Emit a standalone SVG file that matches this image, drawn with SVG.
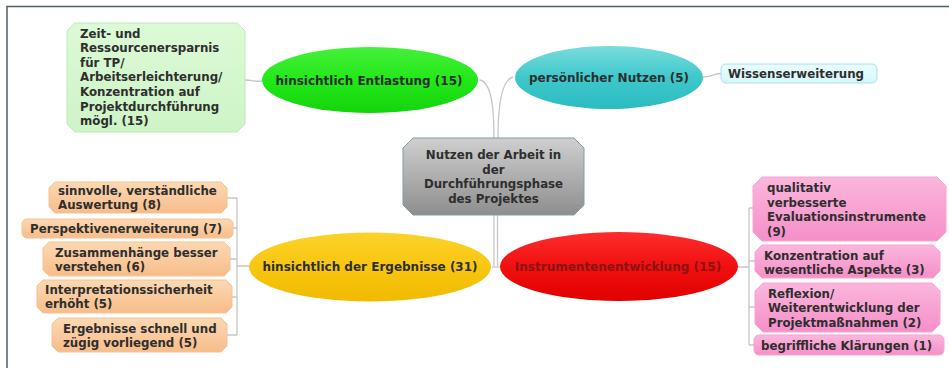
<svg xmlns="http://www.w3.org/2000/svg" width="949" height="368" viewBox="0 0 949 368">
<defs>
<linearGradient id="gGreen" x1="0" y1="0" x2="0" y2="1"><stop offset="0" stop-color="#45f03a"/><stop offset="0.5" stop-color="#22e818"/><stop offset="1" stop-color="#14d40c"/></linearGradient>
<linearGradient id="gTeal" x1="0" y1="0" x2="0" y2="1"><stop offset="0" stop-color="#7adcdc"/><stop offset="0.5" stop-color="#3ec8cb"/><stop offset="1" stop-color="#2bbcc0"/></linearGradient>
<linearGradient id="gYellow" x1="0" y1="0" x2="0" y2="1"><stop offset="0" stop-color="#fcd22a"/><stop offset="0.5" stop-color="#f8c610"/><stop offset="1" stop-color="#f0ba00"/></linearGradient>
<linearGradient id="gRed" x1="0" y1="0" x2="0" y2="1"><stop offset="0" stop-color="#ff2c2c"/><stop offset="0.5" stop-color="#f01010"/><stop offset="1" stop-color="#e00000"/></linearGradient>
<linearGradient id="gGray" x1="0" y1="0" x2="0" y2="1"><stop offset="0" stop-color="#cfcfcf"/><stop offset="1" stop-color="#8e8e8e"/></linearGradient>
<linearGradient id="gNote" x1="0" y1="0" x2="0" y2="1"><stop offset="0" stop-color="#dcfad6"/><stop offset="1" stop-color="#cdf4c6"/></linearGradient>
<linearGradient id="gCyan" x1="0" y1="0" x2="0" y2="1"><stop offset="0" stop-color="#eafdfe"/><stop offset="1" stop-color="#d6f7fa"/></linearGradient>
<linearGradient id="gOrange" x1="0" y1="0" x2="0" y2="1"><stop offset="0" stop-color="#fcd8b2"/><stop offset="1" stop-color="#f7bd8a"/></linearGradient>
<linearGradient id="gPink" x1="0" y1="0" x2="0" y2="1"><stop offset="0" stop-color="#fbb6dc"/><stop offset="1" stop-color="#f58fc9"/></linearGradient>
</defs>
<style>
text{font-family:"DejaVu Sans",Verdana,sans-serif;font-weight:bold;font-size:11.8px;fill:#2e2e2e}
.big{font-size:12px}
.mid{text-anchor:middle}
.note{fill:url(#gNote);stroke:#bfe8b6;stroke-width:1}
.cyan{fill:url(#gCyan);stroke:#a6e2ec;stroke-width:1}
.orange{fill:url(#gOrange);stroke:#f2c496;stroke-width:1}
.pink{fill:url(#gPink);stroke:#f3a6d2;stroke-width:1}
.conn path{fill:none;stroke:#c6c6c6;stroke-width:1.3}
</style>
<path d="M7,368 V6.5 H949" fill="none" stroke="#4f5f66" stroke-width="1.5"/>
<g class="conn" id="connectors">
<path d="M245,80 C252,80 254,82 262,81"/>
<path d="M480,80 C492,83 494,110 494,138"/>
<path d="M513,77 C501,80 498,110 498,138"/>
<path d="M494,215 V266"/>
<path d="M497.5,215 V266"/>
<path d="M492,267 H500"/>
<path d="M703,77 C712,77 712,74 721,73.5"/>
<path d="M249,266 H237 M237,198 V335 M227,198 H237 M233,228 H237 M230,259 H237 M232,297 H237 M227,335 H237"/>
<path d="M738,267 H749 M749,208 V345 M749,208 H753 M749,261 H755 M749,307 H755 M749,345 H754"/>
</g>
<g id="center">
<path d="M413,138 H574 L584,148 V205 L574,215 H413 L403,205 V148 Z" fill="url(#gGray)" stroke="#7f9da3" stroke-width="1"/>
<text class="mid" x="493.5" y="159">Nutzen der Arbeit in</text>
<text class="mid" x="493.5" y="173.5">der</text>
<text class="mid" x="493.5" y="188">Durchführungsphase</text>
<text class="mid" x="493.5" y="202.5">des Projektes</text>
</g>
<g id="entlastung">
<ellipse cx="370" cy="80" rx="108" ry="33" fill="url(#gGreen)"/>
<text class="big mid" x="369" y="84.5">hinsichtlich Entlastung (15)</text>
</g>
<g id="note-zeit">
<path d="M75,23 H237 L245,31 V124 L237,132 H75 L67,124 V31 Z" class="note"/>
<text x="80" y="37.5">Zeit- und</text>
<text x="80" y="52.1">Ressourcenersparnis</text>
<text x="80" y="66.7">für TP/</text>
<text x="80" y="81.3">Arbeitserleichterung/</text>
<text x="80" y="95.9">Konzentration auf</text>
<text x="80" y="110.5">Projektdurchführung</text>
<text x="80" y="125.1">mögl. (15)</text>
</g>
<g id="persoenlich">
<ellipse cx="609" cy="77.5" rx="94" ry="31.5" fill="url(#gTeal)"/>
<text class="big mid" x="609" y="82">persönlicher Nutzen (5)</text>
</g>
<g id="wissen">
<rect x="721" y="64" width="156" height="19" rx="5" class="cyan"/>
<text x="728" y="78">Wissenserweiterung</text>
</g>
<g id="ergebnisse">
<ellipse cx="370" cy="267" rx="121" ry="34.5" fill="url(#gYellow)"/>
<text class="big mid" x="370" y="271">hinsichtlich der Ergebnisse (31)</text>
</g>
<g id="instrumente">
<ellipse cx="619" cy="266.5" rx="119" ry="34.5" fill="url(#gRed)"/>
<text class="big mid" x="618" y="271" style="fill:#8a1414">Instrumentenentwicklung (15)</text>
</g>
<g id="o1">
<path d="M55,182 H221 L227,188 V207 L221,213 H55 L49,207 V188 Z" class="orange"/>
<text x="58" y="195">sinnvolle, verständliche</text>
<text x="58" y="209">Auswertung (8)</text>
</g>
<g id="o2">
<rect x="22" y="219" width="211" height="19" rx="5" class="orange"/>
<text x="30" y="233">Perspektivenerweiterung (7)</text>
</g>
<g id="o3">
<path d="M49,242 H224 L230,248 V270 L224,276 H49 L43,270 V248 Z" class="orange"/>
<text x="55" y="256.5">Zusammenhänge besser</text>
<text x="55" y="271">verstehen (6)</text>
</g>
<g id="o4">
<path d="M43,280 H226 L232,286 V307 L226,313 H43 L37,307 V286 Z" class="orange"/>
<text x="45" y="293.5">Interpretationssicherheit</text>
<text x="45" y="307.5">erhöht (5)</text>
</g>
<g id="o5">
<path d="M58,318 H221 L227,324 V346 L221,352 H58 L52,346 V324 Z" class="orange"/>
<text x="63" y="332.5">Ergebnisse schnell und</text>
<text x="63" y="347">zügig vorliegend (5)</text>
</g>
<g id="p1">
<path d="M762,177 H937 L946,186 V232 L937,241 H762 L753,232 V186 Z" class="pink"/>
<text x="767" y="191.5">qualitativ</text>
<text x="767" y="206.5">verbesserte</text>
<text x="767" y="221">Evaluationsinstrumente</text>
<text x="767" y="236">(9)</text>
</g>
<g id="p2">
<path d="M762,245 H933 L940,252 V271 L933,278 H762 L755,271 V252 Z" class="pink"/>
<text x="764" y="259.5">Konzentration auf</text>
<text x="764" y="273.5">wesentliche Aspekte (3)</text>
</g>
<g id="p3">
<path d="M763,283 H932 L940,291 V324 L932,332 H763 L755,324 V291 Z" class="pink"/>
<text x="768" y="297.5">Reflexion/</text>
<text x="768" y="312">Weiterentwicklung der</text>
<text x="768" y="326.5">Projektmaßnahmen (2)</text>
</g>
<g id="p4">
<rect x="754" y="335" width="190" height="20" rx="5" class="pink"/>
<text x="761" y="349.5">begriffliche Klärungen (1)</text>
</g>
</svg>
